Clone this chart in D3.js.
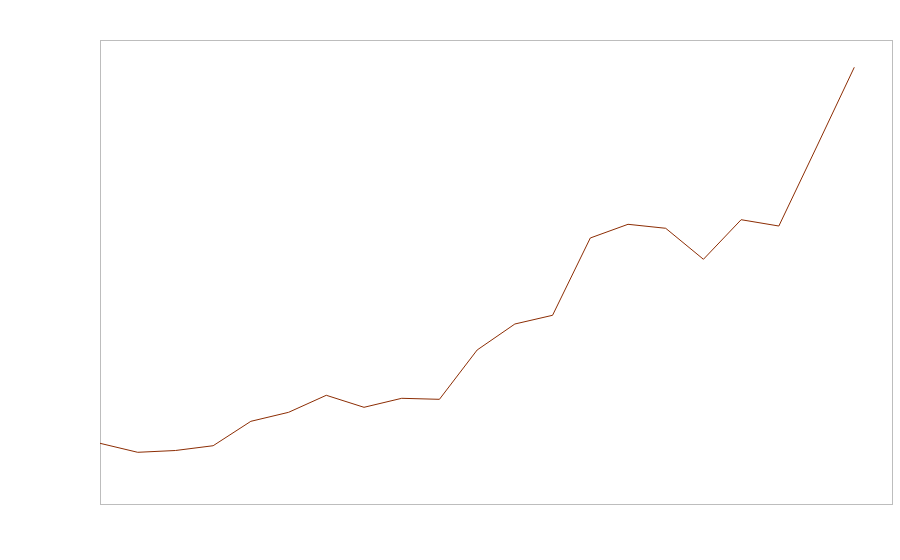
<!DOCTYPE html>
<html>
<head>
<meta charset="utf-8">
<script src="https://cdn.jsdelivr.net/npm/d3@7"></script>
<style>
  html, body { margin: 0; padding: 0; background: #fff; }
  svg { display: block; }
</style>
</head>
<body>
<svg id="chart" width="900" height="560"></svg>
<script>
const periods = d3.range(21);
const values = [13.08, 11.14, 11.53, 12.56, 17.82, 19.76, 23.43, 20.84, 22.78, 22.56,
                33.19, 38.79, 40.67, 57.33, 60.28, 59.42, 52.74, 61.27, 59.91, 76.94, 94.12];

const margin = { top: 40, right: 8, bottom: 56, left: 100 };
const W = 900, H = 560;
const svg = d3.select("#chart");

const x = d3.scaleLinear().domain([0, 21]).range([margin.left, W - margin.right]);
const y = d3.scaleLinear().domain([0, 100]).range([H - margin.bottom, margin.top]);

svg.append("rect")
  .attr("x", margin.left + 0.5)
  .attr("y", margin.top + 0.5)
  .attr("width", W - margin.right - margin.left)
  .attr("height", H - margin.bottom - margin.top)
  .attr("fill", "none")
  .attr("stroke", "#bdbdbd")
  .attr("stroke-width", 1);

const line = d3.line()
  .x((d, i) => x(periods[i]))
  .y(d => y(d));

svg.append("path")
  .datum(values)
  .attr("d", line)
  .attr("fill", "none")
  .attr("stroke", "#8c2d04")
  .attr("stroke-width", 1);
</script>
</body>
</html>
